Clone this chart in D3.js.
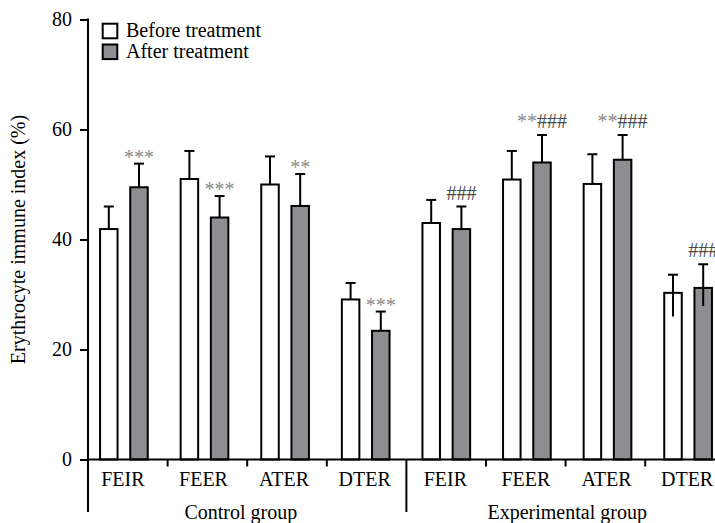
<!DOCTYPE html>
<html>
<head>
<meta charset="utf-8">
<script src="https://cdn.jsdelivr.net/npm/d3@7/dist/d3.min.js"></script>
<style>
  html, body { margin: 0; padding: 0; background: #fff; }
  svg { display: block; }
  text { font-family: "Liberation Serif", "Times New Roman", Times, serif; }
</style>
</head>
<body>
<svg id="chart" width="715" height="523"></svg>
<script>
// ---- data ----
const categories = ["FEIR", "FEER", "ATER", "DTER", "FEIR", "FEER", "ATER", "DTER"];
const groups = ["Control group", "Experimental group"];
const seriesNames = ["Before treatment", "After treatment"];
const before = [41.9, 51.0, 50.0, 29.1, 43.0, 50.9, 50.1, 30.3];
const beforeErr = [4.1, 5.1, 5.1, 3.0, 4.2, 5.2, 5.4, 3.3];
const beforeLowerErr = [null, null, null, null, null, null, null, 4.3];
const after = [49.5, 44.0, 46.1, 23.4, 41.9, 54.0, 54.5, 31.2];
const afterErr = [4.3, 3.9, 5.8, 3.5, 4.1, 5.0, 4.5, 4.3];
const afterLowerErr = [null, null, null, null, null, null, null, 3.3];
const afterMarks = ["***", "***", "**", "***", "###", "**###", "**###", "###"];
const yTicks = [0, 20, 40, 60, 80];

// ---- layout ----
const svg = d3.select("#chart");
const FONT = 20;
const idx = categories.map((d, i) => i);

const y = d3.scaleLinear().domain([0, 80]).range([459.5, 19.5]);
const xTick = d3.scaleBand().domain(idx).range([88, 88 + 8 * 79.6]);
const xBar = d3.scaleBand().domain(idx).range([83.6, 83.6 + 8 * 80.6]);
const xSub = d3.scaleBand().domain(["before", "after"]).range([15.45, 65.15]).paddingInner(0.354);

const fills = { before: "#ffffff", after: "#8e8e92" };
const series = [
  { key: "before", vals: before, err: beforeErr, low: beforeLowerErr },
  { key: "after", vals: after, err: afterErr, low: afterLowerErr }
];

// bars
const bw = xSub.bandwidth();
series.forEach(s => {
  const g = svg.append("g");
  idx.forEach(i => {
    const left = xBar(i) + xSub(s.key);
    const cx = left + bw / 2;
    const v = s.vals[i];
    const top = y(v + s.err[i]);
    const bottom = s.low[i] != null ? y(v - s.low[i]) : y(v);
    g.append("rect")
      .attr("x", left + 1).attr("y", y(v))
      .attr("width", bw - 2).attr("height", y(0) - y(v))
      .attr("fill", fills[s.key]).attr("stroke", "#000").attr("stroke-width", 2);
    g.append("line")
      .attr("x1", cx).attr("x2", cx).attr("y1", top).attr("y2", bottom)
      .attr("stroke", "#000").attr("stroke-width", 2);
    g.append("line")
      .attr("x1", cx - 5).attr("x2", cx + 5).attr("y1", top).attr("y2", top)
      .attr("stroke", "#000").attr("stroke-width", 2);
  });
});

// significance marks
idx.forEach(i => {
  const m = afterMarks[i];
  if (!m) return;
  const cx = xBar(i) + xSub("after") + bw / 2;
  const top = y(after[i] + afterErr[i]);
  const hasHash = m.indexOf("#") >= 0;
  const t = svg.append("text")
    .attr("x", cx).attr("y", hasHash ? top - 7 : top)
    .attr("text-anchor", "middle")
    .attr("font-size", FONT);
  const stars = m.replace(/#/g, "");
  const hashes = m.replace(/\*/g, "");
  if (stars) t.append("tspan").attr("fill", "#8a8a8a").text(stars);
  if (hashes) t.append("tspan").attr("fill", "#4a4a4a").text(hashes);
});

// y axis
const yAxis = d3.axisLeft(y).tickValues(yTicks).tickSize(8).tickSizeOuter(0).tickPadding(8);
const ya = svg.append("g").attr("transform", "translate(88,0)").call(yAxis);
ya.select(".domain").remove();
ya.selectAll(".tick line").attr("stroke", "#000").attr("stroke-width", 2);
ya.selectAll(".tick text").attr("font-size", FONT).attr("fill", "#000")
  .attr("font-family", "\"Liberation Serif\", \"Times New Roman\", serif");
svg.append("line").attr("x1", 88).attr("x2", 88).attr("y1", y(80) - 1).attr("y2", 512)
  .attr("stroke", "#000").attr("stroke-width", 2);

// x axis line
svg.append("line").attr("x1", 87).attr("x2", 715).attr("y1", y(0)).attr("y2", y(0))
  .attr("stroke", "#000").attr("stroke-width", 2);

// x ticks at band boundaries
idx.slice(1).forEach(i => {
  const isGroupSplit = i === 4;
  svg.append("line")
    .attr("x1", xTick(i)).attr("x2", xTick(i))
    .attr("y1", y(0)).attr("y2", isGroupSplit ? 512 : y(0) + 7)
    .attr("stroke", "#000").attr("stroke-width", 2);
});

// category labels
idx.forEach(i => {
  svg.append("text")
    .attr("x", xBar(i) + xBar.bandwidth() / 2 - 1)
    .attr("y", 486)
    .attr("text-anchor", "middle")
    .attr("font-size", FONT)
    .attr("fill", "#000")
    .text(categories[i]);
});

// group labels
groups.forEach((gname, gi) => {
  const a = xBar(gi * 4) + xBar.bandwidth() / 2;
  const b = xBar(gi * 4 + 3) + xBar.bandwidth() / 2;
  svg.append("text")
    .attr("x", (a + b) / 2 - (gi === 0 ? 4 : 0))
    .attr("y", 519)
    .attr("text-anchor", "middle")
    .attr("font-size", FONT)
    .attr("fill", "#000")
    .text(gname);
});

// y label
svg.append("text")
  .attr("transform", `translate(25,${(y(0) + y(80)) / 2}) rotate(-90)`)
  .attr("text-anchor", "middle")
  .attr("font-size", FONT)
  .attr("fill", "#000")
  .text("Erythrocyte immune index (%)");

// legend
const legend = svg.append("g");
["before", "after"].forEach((k, i) => {
  legend.append("rect")
    .attr("x", 102.7).attr("y", 23.7 + i * 20.8)
    .attr("width", 14.6).attr("height", 14.6)
    .attr("fill", fills[k]).attr("stroke", "#000").attr("stroke-width", 2);
  legend.append("text")
    .attr("x", 126).attr("y", 37.3 + i * 21)
    .attr("font-size", FONT)
    .attr("fill", "#000")
    .text(seriesNames[i]);
});
</script>
</body>
</html>
